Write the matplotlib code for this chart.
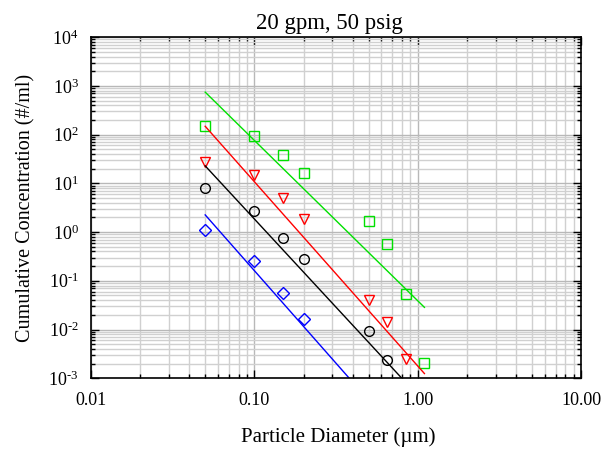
import numpy as np
import matplotlib
matplotlib.use('Agg')
import matplotlib.pyplot as plt
from matplotlib.ticker import LogLocator, FuncFormatter, FixedLocator, FixedFormatter, NullFormatter

plt.rcParams['font.family'] = ['Liberation Serif', 'DejaVu Serif']
plt.rcParams['mathtext.fontset'] = 'custom'
plt.rcParams['mathtext.rm'] = 'Liberation Serif'
plt.rcParams['mathtext.it'] = 'Liberation Serif:italic'
plt.rcParams['axes.unicode_minus'] = False

# measured points
x_green = [0.05, 0.10, 0.15, 0.20, 0.50, 0.65, 0.85, 1.10]
y_green = [150, 92, 38, 16, 1.7, 0.58, 0.054, 0.0021]
x_red = [0.05, 0.10, 0.15, 0.20, 0.50, 0.65, 0.85]
y_red = [28, 14.5, 4.9, 1.85, 0.041, 0.0145, 0.0025]
x_black = [0.05, 0.10, 0.15, 0.20, 0.50, 0.65]
y_black = [8.0, 2.7, 0.76, 0.28, 0.0095, 0.0024]
x_blue = [0.05, 0.10, 0.15, 0.20]
y_blue = [1.1, 0.25, 0.056, 0.0165]

# power law fits y = a * x^b
fit_green = (0.039, -3.29)
fit_red = (0.00179, -3.78)
fit_black = (4.45e-4, -3.62)
fit_blue = (2.56e-5, -3.80)
fit_range = (0.05, 1.1)


def pow10(v, pos):
    e = int(round(np.log10(v)))
    if e < 0:
        return r'$10^{\text{-}%d}$' % (-e)
    return r'$10^{%d}$' % e


fig = plt.figure(figsize=(6.03, 4.53), dpi=100)
ax = fig.add_axes([0.151, 0.165, 0.8125, 0.753])

xf = np.logspace(np.log10(fit_range[0]), np.log10(fit_range[1]), 100)
series = [
    (x_green, y_green, fit_green, '#00e000', 's'),
    (x_red, y_red, fit_red, '#ff0000', 'v'),
    (x_black, y_black, fit_black, 'black', 'o'),
    (x_blue, y_blue, fit_blue, '#0000ff', 'D'),
]
for xs, ys, (a, b), c, m in series:
    ax.plot(xf, a * xf ** b, color=c, lw=1)
    ms = 7 if m != 'D' else 6
    ax.plot(xs, ys, linestyle='none', marker=m, markersize=ms,
            markerfacecolor='none', markeredgecolor=c, markeredgewidth=1)

ax.set_xscale('log')
ax.set_yscale('log')
ax.set_xlim(0.01, 10)
ax.set_ylim(1e-3, 1e4)

ax.xaxis.set_major_locator(FixedLocator([0.01, 0.1, 1, 10]))
ax.xaxis.set_major_formatter(FixedFormatter(['0.01', '0.10', '1.00', '10.00']))
ax.xaxis.set_minor_locator(LogLocator(base=10, subs=np.arange(2, 10), numticks=20))
ax.xaxis.set_minor_formatter(NullFormatter())
ax.yaxis.set_major_locator(LogLocator(base=10, numticks=20))
ax.yaxis.set_major_formatter(FuncFormatter(pow10))
ax.yaxis.set_minor_locator(LogLocator(base=10, subs=np.arange(2, 10), numticks=20))
ax.yaxis.set_minor_formatter(NullFormatter())

ax.grid(True, which='major', color='#b8b8b8', lw=1)
ax.grid(True, which='minor', color='#d0d0d0', lw=1)
ax.set_axisbelow(True)

ax.tick_params(which='both', direction='in', top=True, right=True, labelsize=13)
ax.tick_params(which='major', length=6, width=1)
ax.tick_params(which='minor', length=3, width=1)
ax.tick_params(axis='x', pad=10)
ax.tick_params(axis='y', pad=9)
for s in ax.spines.values():
    s.set_linewidth(1.2)

ax.set_title('20 gpm, 50 psig', fontsize=16.4, pad=6, x=0.486)
ax.set_xlabel('Particle Diameter (µm)', fontsize=15)
ax.set_ylabel('Cumulative Concentration (#/ml)', fontsize=14.5)
ax.xaxis.set_label_coords(0.505, -0.143)
ax.yaxis.set_label_coords(-0.114, 0.5)

fig.savefig('out.png', dpi=100)
